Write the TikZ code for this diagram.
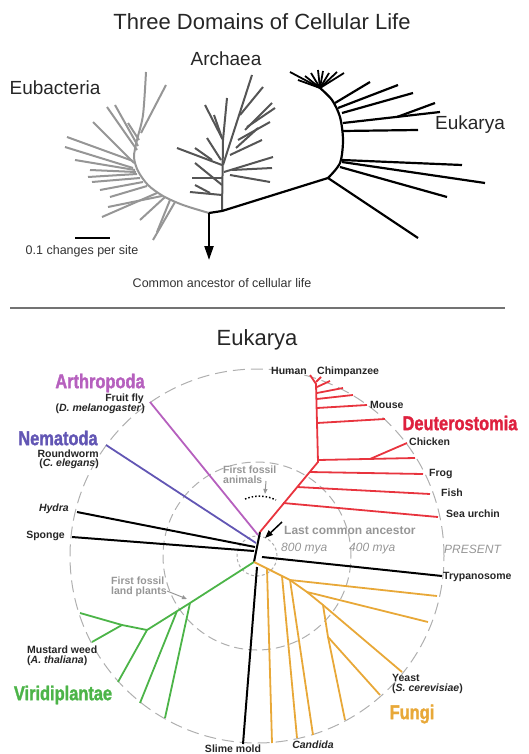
\documentclass[tikz,border=0pt]{standalone}
\usepackage{fontspec}
\setmainfont{Liberation Sans}
\newfontfamily\cladefont{Liberation Sans}[FakeStretch=0.82,FakeBold=1.5]
\usetikzlibrary{arrows.meta}
\definecolor{EubacGray}{RGB}{150,150,150}
\definecolor{ArchGray}{RGB}{85,85,85}
\definecolor{DeutRed}{RGB}{232,52,62}
\definecolor{DeutText}{RGB}{222,32,62}
\definecolor{ArthPurple}{RGB}{182,96,190}
\definecolor{NemaBlue}{RGB}{98,86,180}
\definecolor{ViriGreen}{RGB}{76,180,72}
\definecolor{FungiOrange}{RGB}{232,168,56}
\definecolor{RingGray}{RGB}{175,175,175}
\definecolor{NoteGray}{RGB}{150,150,150}

\begin{document}
\begin{tikzpicture}[x=1pt,y=-1pt,
  eubac/.style={draw=EubacGray, line width=2pt},
  archaea/.style={draw=ArchGray, line width=2pt},
  eukline/.style={draw=black, line width=2.2pt},
  blackbr/.style={draw=black, line width=2pt},
  deut/.style={draw=DeutRed, line width=1.8pt},
  arthro/.style={draw=ArthPurple, line width=1.8pt},
  nema/.style={draw=NemaBlue, line width=1.8pt},
  viri/.style={draw=ViriGreen, line width=1.8pt},
  fungi/.style={draw=FungiOrange, line width=1.8pt},
  ring/.style={draw=RingGray, line width=1pt},
  heading/.style={font=\fontsize{22}{26}\selectfont, text=black!85},
  domainlbl/.style={font=\fontsize{19}{22}\selectfont, text=black!85},
  captionlbl/.style={font=\fontsize{12.5}{15}\selectfont, text=black!80},
  species/.style={font=\bfseries\fontsize{10.5}{10.5}\selectfont, text=black!85, inner sep=1pt},
  notelbl/.style={font=\bfseries\fontsize{10.5}{10}\selectfont, text=NoteGray, inner sep=1pt, align=left},
  agelbl/.style={font=\itshape\fontsize{12}{14}\selectfont, text=NoteGray, inner sep=1pt},
  clade/.style={font=\cladefont\bfseries\fontsize{20}{22}\selectfont, inner sep=0pt}
]
\useasboundingbox (0,0) rectangle (529,754);

\node[heading] (title) at (262,22) {Three Domains of Cellular Life};
\node[domainlbl] (eubaclbl) at (55,88) {Eubacteria};
\node[domainlbl] (archlbl) at (226,59) {Archaea};
\node[domainlbl] (euklbl) at (470,125) {Eukarya};

\coordinate (root) at (209,213);
\coordinate (junc) at (222,211);
\coordinate (eukbase) at (328,178);
\coordinate (arrowtip) at (209,260);

\draw[eubac] plot[smooth] coordinates {(root) (183,205) (163,196) (148,185) (138,171) (134,157) (137,140) (143,115) (146,72)};
\foreach \ax/\ay/\bx/\by in {133/168/65/147, 133/161/67/137, 134/163/93/122, 137/150/107/107,
  138/146/115/105, 139/140/128/123, 141/133/166/85, 135/170/75/160, 136/172/90/170,
  137/174/88/177, 140/178/92/182, 143/182/100/190, 147/186/110/197, 157/193/102/217,
  162/196/108/207, 165/197/140/220, 170/200/157/232, 175/202/153/240}
  \draw[eubac] (\ax,\ay) -- (\bx,\by);

\draw[archaea] (junc) -- (223,140) -- (227,98);
\foreach \ax/\ay/\bx/\by in {223/140/205/105, 222/138/214/115, 222/165/177/148, 212/160/195/148,
  221/160/207/138, 222/178/192/178, 222/195/190/192, 210/193/195/185, 222/185/195/163,
  223/165/252/75, 240/115/263/87, 245/130/272/103, 247/127/275/108, 238/140/270/122,
  236/148/258/128, 230/155/262/140, 224/172/273/157, 232/170/272/168, 230/175/270/182}
  \draw[archaea] (\ax,\ay) -- (\bx,\by);

\draw[eukline] (root) -- (junc) -- (eukbase);
\draw[eukline] plot[smooth] coordinates {(eukbase) (340,163) (343,140) (340,117) (332,100) (320,88)};
\foreach \bx/\by in {290/72, 298/80, 305/76, 311/73, 318/70, 323/71, 329/73, 337/72, 344/73}
  \draw[eukline, line width=1.8pt] (320,88) -- (\bx,\by);
\foreach \ax/\ay/\bx/\by in {335/103/370/82, 338/108/398/85, 342/113/413/93, 343/123/440/112,
  397/117/435/103, 343/131/418/130, 342/160/462/165, 342/162/485/183, 340/167/447/197, 328/178/418/238}
  \draw[eukline] (\ax,\ay) -- (\bx,\by);

\draw[eukline, -{Triangle[length=14pt,width=9pt]}] (root) -- (arrowtip);
\coordinate (barl) at (75,238);
\coordinate (barr) at (110,238);
\draw[black, line width=1.6pt] (barl) -- (barr);
\node[captionlbl] (scalelbl) at (82,251) {0.1 changes per site};
\node[captionlbl] (ancestorlbl) at (222,283) {Common ancestor of cellular life};

\coordinate (sepl) at (10,308);
\coordinate (sepr) at (505,308);
\draw[black!55, line width=1.6pt] (sepl) -- (sepr);

\node[heading] (eukhead) at (257,340) {Eukarya};

\coordinate (center) at (257,556);
\draw[ring, dash pattern=on 12pt off 6pt] (center) circle[radius=187pt];
\draw[ring, dash pattern=on 9pt off 5pt] (center) circle[radius=94pt];
\draw[ring, dash pattern=on 3pt off 2.5pt] (center) circle[radius=20pt];

\coordinate (lcatop) at (260,532);
\coordinate (lcabot) at (254,562);
\draw[blackbr] (lcatop) -- (lcabot);

\draw[deut] (lcatop) -- (318,462) -- (316,384) -- (310,375);
\draw[deut] (316,382) -- (321,377);
\foreach \ax/\ay/\bx/\by in {317/387/330/381, 317/393/343/388, 317/399/353/395, 317/408/367/405,
  317/423/385/419, 318/460/415/458, 370/459/407/443, 309/472/423/474, 297/487/430/494, 283/503/438/517}
  \draw[deut] (\ax,\ay) -- (\bx,\by);

\draw[arthro] (150,402) -- (258,535);
\draw[nema] (106,445) -- (256,543);
\draw[blackbr] (77,512) -- (255,547);
\draw[blackbr] (72,537) -- (254,551);
\draw[blackbr] (262,557) -- (442,576);
\draw[blackbr] (257,567) -- (243,744);

\draw[viri] (lcabot) -- (190,603) -- (147,630) -- (122,625) -- (80,613);
\draw[viri] (122,625) -- (92,642);
\draw[viri] (147,630) -- (118,682);
\draw[viri] (177,611) -- (140,703);
\draw[viri] (190,603) -- (165,718);

\draw[fungi] (lcabot) -- (290,580) -- (437,596);
\draw[fungi] (267,569) -- (272,743);
\draw[fungi] (282,576) -- (297,738);
\draw[fungi] (290,580) -- (313,735);
\draw[fungi] (290,580) -- (307,592) -- (428,622);
\draw[fungi] (307,592) -- (323,605) -- (402,672);
\draw[fungi] (323,605) -- (328,637) -- (380,695);
\draw[fungi] (328,637) -- (345,720);

\draw[black, dotted, line width=1.5pt] (245,499) .. controls (255,495) and (266,495) .. (276,500);
\draw[NoteGray, line width=1pt, -{Triangle[length=5pt,width=4pt]}] (266,481) -- (265,494);
\draw[NoteGray, line width=1pt, -{Triangle[length=5pt,width=4pt]}] (167,591) -- (187,599);
\draw[black, line width=1.5pt, -{Triangle[length=8pt,width=6pt]}] (282,522) -- (265,538);

\node[notelbl, anchor=west] (animalsnote) at (222,475) {First fossil\\animals};
\node[notelbl, anchor=west] (plantsnote) at (110,587) {First fossil\\land plants};
\node[notelbl, anchor=west, font=\bfseries\fontsize{12}{14}\selectfont] (lcalbl) at (283,530) {Last common ancestor};
\node[agelbl, anchor=west] (age800) at (280,549) {800 mya};
\node[agelbl, anchor=west] (age400) at (348,549) {400 mya};
\node[agelbl, anchor=west] (present) at (443,549) {PRESENT};

\node[clade, text=ArthPurple] (arthlbl) at (100,383) {Arthropoda};
\node[clade, text=NemaBlue] (nemalbl) at (58,438) {Nematoda};
\node[clade, text=DeutText] (deutlbl) at (460,423) {Deuterostomia};
\node[clade, text=ViriGreen] (virilbl) at (63,695) {Viridiplantae};
\node[clade, text=FungiOrange] (fungilbl) at (412,714) {Fungi};

\node[species, anchor=east] (human) at (308,371) {Human};
\node[species, anchor=west] (chimp) at (316,372) {Chimpanzee};
\node[species, anchor=west] (mouse) at (369,405) {Mouse};
\node[species, anchor=west] (chicken) at (408,442) {Chicken};
\node[species, anchor=west] (frog) at (428,474) {Frog};
\node[species, anchor=west] (fish) at (440,493) {Fish};
\node[species, anchor=west] (urchin) at (445,514) {Sea urchin};
\node[species, anchor=west] (trypano) at (442,577) {Trypanosome};
\node[species, anchor=east] (fly) at (145,399) {Fruit fly};
\node[species, anchor=east] (flysp) at (146,409) {(\textit{D. melanogaster})};
\node[species, anchor=east] (worm) at (100,454) {Roundworm};
\node[species, anchor=east] (wormsp) at (100,464) {(\textit{C. elegans})};
\node[species, anchor=east] (hydra) at (70,509) {\textit{Hydra}};
\node[species, anchor=east] (sponge) at (66,536) {Sponge};
\node[species, anchor=west] (mustard) at (26,650) {Mustard weed};
\node[species, anchor=west] (mustardsp) at (26,661) {(\textit{A. thaliana})};
\node[species, anchor=west] (yeast) at (391,678) {Yeast};
\node[species, anchor=west] (yeastsp) at (391,689) {(\textit{S. cerevisiae})};
\node[species] (slime) at (233,749) {Slime mold};
\node[species] (candida) at (313,745) {\textit{Candida}};
\end{tikzpicture}
\end{document}
